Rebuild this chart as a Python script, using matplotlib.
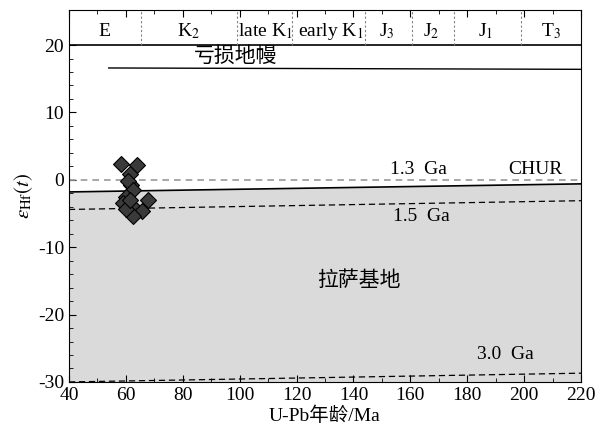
import matplotlib
matplotlib.use("Agg")
import matplotlib.pyplot as plt
from matplotlib.ticker import FixedLocator, MultipleLocator

plt.rcParams['font.family'] = ['Liberation Serif', 'Noto Sans CJK SC']
plt.rcParams['mathtext.fontset'] = 'stix'
plt.rcParams['axes.unicode_minus'] = False

# zircon data (age Ma, eHf(t))
ages = [58.4, 63.9, 61.6, 62.0, 60.8, 62.5, 60.0, 59.0, 67.8, 62.5, 65.8, 62.5, 60.2, 61.4]
ehf = [2.4, 2.2, 0.9, -0.7, -0.2, -1.5, -2.5, -3.4, -3.0, -4.0, -4.7, -5.4, -4.4, -3.0]

# evolution lines (start/end)
dm_x = [54, 220]
dm_y = [16.6, 16.4]
ga13_x = [40, 220]
ga13_y = [-1.8, -0.6]
ga15_x = [40, 220]
ga15_y = [-4.4, -3.1]
ga30_x = [40, 220]
ga30_y = [-30.0, -28.7]

# period boundaries and names
bounds = [65.2, 99.2, 118.5, 144.2, 160.5, 175.2, 199]
periods = ['E', r'K$_2$', r'late K$_1$', r'early K$_1$', r'J$_3$', r'J$_2$', r'J$_1$', r'T$_3$']
period_x = [52.5, 82, 109, 132, 151.7, 167.5, 186.5, 209.5]

fig = plt.figure(figsize=(5.99, 4.36), dpi=100)
ax = fig.add_axes([0.115, 0.124, 0.855, 0.853])
ax.set_xlim(40, 220)
ax.set_ylim(-30, 25.2)

# Lhasa basement field
ax.fill_between(ga13_x, ga13_y, [-30, -30], facecolor='#dadada', edgecolor='none', zorder=1)
ax.plot(ga13_x, ga13_y, color='black', lw=1.2, zorder=2)
ax.plot(ga15_x, ga15_y, color='black', lw=0.9, ls=(0, (5, 3)), zorder=2)
ax.plot(ga30_x, ga30_y, color='black', lw=0.9, ls=(0, (5, 3)), zorder=2)
ax.axhline(0, color='#999999', lw=1.2, ls=(0, (4, 3)), zorder=2)
ax.plot(dm_x, dm_y, color='black', lw=1.0, zorder=2)

ax.plot(ages, ehf, 'D', ms=8.5, mfc='#3a3a3a', mec='black', mew=0.8, ls='none', zorder=3)

# header with periods
ax.axhline(20, color='black', lw=1.2)
for b in bounds:
    ax.plot([b, b], [20, 25.2], color='gray', lw=0.8, ls=(0, (2, 2)))
for px, name in zip(period_x, periods):
    ax.text(px, 22.0, name, ha='center', va='center', fontsize=14)

ax.text(98.5, 18.2, '亏损地幔', ha='center', va='center', fontsize=15)
ax.text(163, 1.5, '1.3  Ga', ha='center', va='center', fontsize=14)
ax.text(204, 1.5, 'CHUR', ha='center', va='center', fontsize=14)
ax.text(164, -5.5, '1.5  Ga', ha='center', va='center', fontsize=14)
ax.text(142, -15.1, '拉萨基地', ha='center', va='center', fontsize=15)
ax.text(193.5, -26.0, '3.0  Ga', ha='center', va='center', fontsize=14)

ax.xaxis.set_major_locator(MultipleLocator(20))
ax.xaxis.set_minor_locator(MultipleLocator(10))
ax.yaxis.set_major_locator(FixedLocator(range(-30, 21, 10)))
ax.yaxis.set_minor_locator(FixedLocator(range(-30, 21, 2)))
ax.tick_params(which='both', direction='in', top=True, labelsize=14)
ax.tick_params(which='major', length=5)
ax.tick_params(which='minor', length=3)

ax.set_xlabel('U-Pb年龄/Ma', fontsize=14, labelpad=2)
ax.set_ylabel(r'$\varepsilon_{\rm Hf}(t)$', fontsize=15, labelpad=2)

fig.savefig('out.png', dpi=100)
